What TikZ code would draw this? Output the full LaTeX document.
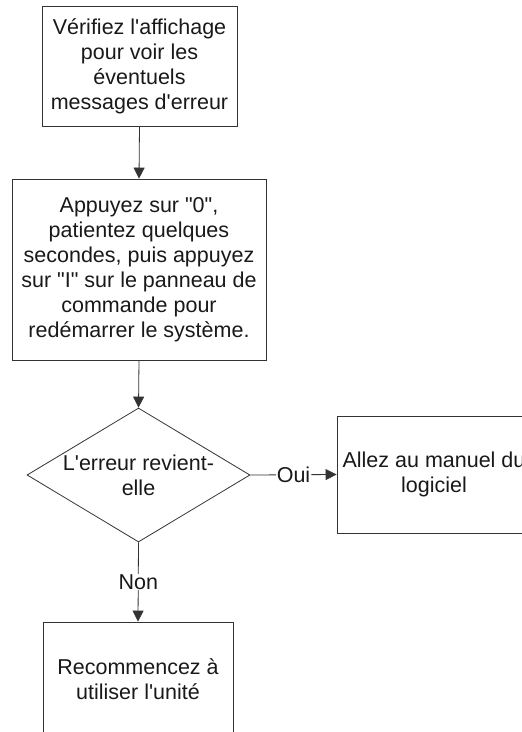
\documentclass[tikz,border=0pt]{standalone}
\usepackage{fontspec}
\setmainfont{Liberation Sans}[Ligatures=TeXOff]
\usetikzlibrary{shapes.geometric,arrows.meta}
\begin{document}
\begin{tikzpicture}[x=1pt,y=-1pt,
  txt/.style={font=\fontsize{21.5}{25}\selectfont, text=black!90},
  box/.style={txt, draw=black!80, line width=0.8pt, align=center, inner sep=0pt},
  dia/.style={draw=black!80, line width=0.8pt, diamond, inner sep=0pt},
  lbl/.style={txt, fill=white, inner sep=0.5pt},
  arr/.style={draw=black!80, line width=0.8pt, -{Triangle[length=11pt,width=11pt]}}]
\useasboundingbox (0,0) rectangle (522,732);
\begin{scope}
\clip (0,0) rectangle (522,732);
\node[box, minimum width=195pt, minimum height=120pt] (b1) at (139.5,66)
  {Vérifiez l'affichage\\pour voir les\\éventuels\\messages d'erreur};
\node[box, minimum width=254pt, minimum height=181pt] (b2) at (139,269.5)
  {Appuyez sur "0",\\patientez quelques\\secondes, puis appuyez\\sur "I" sur le panneau de\\commande pour\\redémarrer le système.};
\node[dia, minimum width=223pt, minimum height=134pt] (d) at (138.5,475) {};
\node[txt, align=center] (dt) at (d.center) {L'erreur revient-\\elle};
\node[box, minimum width=194pt, minimum height=117pt] (b3) at (434,474.5)
  {Allez au manuel du\\logiciel};
\node[box, minimum width=190pt, minimum height=114pt] (b4) at (138,679)
  {Recommencez à\\utiliser l'unité};
\draw[arr] (b1.south) -- (b2.north);
\draw[arr] (b2.south) -- (d.north);
\draw[arr] (d.east) -- node[lbl] (oui) {Oui} (b3.west);
\draw[arr] (d.south) -- node[lbl] (non) {Non} (b4.north);
\end{scope}
\end{tikzpicture}
\end{document}
